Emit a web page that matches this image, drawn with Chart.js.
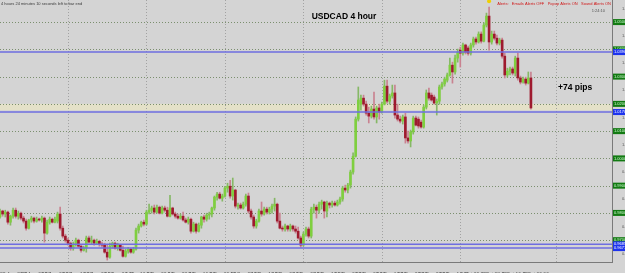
<!DOCTYPE html>
<html><head><meta charset="utf-8">
<script src="https://cdn.jsdelivr.net/npm/chart.js@4/dist/chart.umd.min.js"></script>
<style>html,body{margin:0;padding:0;background:#d4d4d4;overflow:hidden}#wrap{width:625px;height:273px}</style>
</head><body><div id="wrap"><canvas id="c" width="625" height="273"></canvas></div>
<script>
// USDCAD H4 candles, bar 0 = 22 Aug 2011 16:00
const open=[.9785,.9807,.9796,.9803,.9766,.9788,.9810,.9788,.9799,.9781,
.9770,.9744,.9774,.9781,.9770,.9777,.9774,.9781,.9726,.9766,
.9777,.9766,.9770,.9796,.9744,.9715,.9700,.9689,.9671,.9685,
.9700,.9678,.9663,.9671,.9708,.9693,.9700,.9689,.9696,.9685,
.9682,.9656,.9638,.9678,.9689,.9671,.9682,.9663,.9641,.9660,
.9667,.9656,.9667,.9737,.9752,.9766,.9759,.9803,.9810,.9818,
.9803,.9821,.9799,.9818,.9810,.9788,.9818,.9796,.9788,.9781,
.9788,.9774,.9766,.9777,.9733,.9759,.9733,.9755,.9785,.9777,
.9792,.9796,.9818,.9858,.9869,.9854,.9862,.9891,.9898,.9862,
.9884,.9825,.9829,.9818,.9832,.9862,.9807,.9785,.9752,.9770,
.9807,.9796,.9814,.9803,.9814,.9825,.9832,.9770,.9744,.9741,
.9752,.9741,.9752,.9741,.9733,.9708,.9682,.9722,.9741,.9715,
.9814,.9821,.9810,.9832,.9840,.9807,.9836,.9829,.9836,.9829,
.9840,.9851,.9891,.9884,.9902,.9950,1.0008,1.0144,1.0199,1.0221,
1.0199,1.0166,1.0155,1.0181,1.0152,1.0185,1.0170,1.0199,1.0265,1.0210,
1.0229,1.0240,1.0159,1.0144,1.0137,1.0152,1.0075,1.0064,1.0097,1.0148,
1.0144,1.0133,1.0115,1.0188,1.0240,1.0232,1.0225,1.0203,1.0210,1.0262,
1.0273,1.0287,1.0306,1.0342,1.0317,1.0368,1.0397,1.0386,1.0416,1.0405,
1.0386,1.0416,1.0438,1.0427,1.0456,1.0430,1.0489,1.0522,1.0427,1.0456,
1.0441,1.0423,1.0434,1.0375,1.0306,1.0320,1.0328,1.0313,1.0368,1.0295,
1.0280,1.0291,1.0276,1.0295];
const high=[.9814,.9810,.9810,.9807,.9792,.9818,.9818,.9807,.9803,.9788,
.9777,.9777,.9788,.9785,.9785,.9781,.9788,.9785,.9774,.9785,
.9781,.9785,.9803,.9821,.9752,.9722,.9708,.9693,.9693,.9708,
.9704,.9682,.9678,.9715,.9715,.9715,.9704,.9704,.9700,.9693,
.9689,.9685,.9689,.9693,.9693,.9689,.9685,.9678,.9667,.9674,
.9671,.9674,.9744,.9759,.9770,.9774,.9810,.9832,.9825,.9829,
.9829,.9825,.9825,.9825,.9821,.9865,.9821,.9803,.9796,.9796,
.9803,.9781,.9785,.9781,.9766,.9763,.9763,.9788,.9792,.9799,
.9803,.9821,.9862,.9876,.9876,.9869,.9898,.9909,.9920,.9928,
.9887,.9836,.9836,.9840,.9869,.9873,.9814,.9792,.9777,.9814,
.9840,.9821,.9821,.9821,.9832,.9854,.9836,.9799,.9752,.9759,
.9755,.9759,.9755,.9752,.9748,.9715,.9730,.9748,.9748,.9821,
.9832,.9829,.9840,.9847,.9843,.9843,.9840,.9843,.9843,.9847,
.9858,.9898,.9902,.9909,.9957,1.0020,1.0152,1.0262,1.0232,1.0232,
1.0210,1.0188,1.0192,1.0243,1.0192,1.0199,1.0207,1.0287,1.0287,1.0236,
1.0269,1.0269,1.0199,1.0155,1.0159,1.0166,1.0100,1.0104,1.0155,1.0155,
1.0152,1.0141,1.0196,1.0251,1.0258,1.0240,1.0232,1.0218,1.0269,1.0280,
1.0298,1.0313,1.0368,1.0353,1.0379,1.0401,1.0408,1.0423,1.0419,1.0412,
1.0423,1.0445,1.0445,1.0464,1.0464,1.0497,1.0533,1.0555,1.0467,1.0467,
1.0452,1.0441,1.0441,1.0386,1.0331,1.0335,1.0335,1.0375,1.0386,1.0302,
1.0298,1.0298,1.0317,1.0317];
const low=[.9781,.9788,.9785,.9759,.9755,.9781,.9781,.9777,.9774,.9763,
.9737,.9741,.9766,.9763,.9766,.9770,.9766,.9693,.9722,.9759,
.9763,.9763,.9763,.9737,.9708,.9693,.9682,.9663,.9663,.9678,
.9674,.9656,.9660,.9656,.9689,.9685,.9682,.9685,.9678,.9674,
.9652,.9627,.9634,.9671,.9667,.9663,.9660,.9638,.9638,.9652,
.9652,.9652,.9663,.9726,.9748,.9752,.9755,.9796,.9799,.9796,
.9799,.9796,.9796,.9803,.9785,.9785,.9792,.9781,.9777,.9777,
.9770,.9763,.9759,.9726,.9730,.9726,.9730,.9744,.9766,.9770,
.9777,.9785,.9810,.9847,.9851,.9843,.9858,.9876,.9854,.9847,
.9818,.9814,.9814,.9814,.9825,.9799,.9777,.9744,.9744,.9766,
.9788,.9792,.9796,.9796,.9799,.9807,.9763,.9741,.9733,.9733,
.9733,.9733,.9733,.9726,.9704,.9674,.9678,.9715,.9708,.9708,
.9799,.9781,.9799,.9814,.9781,.9785,.9818,.9821,.9825,.9825,
.9832,.9843,.9876,.9873,.9891,.9942,1.0005,1.0137,1.0177,1.0192,
1.0159,1.0130,1.0148,1.0144,1.0130,1.0144,1.0166,1.0196,1.0203,1.0199,
1.0221,1.0148,1.0137,1.0130,1.0126,1.0056,1.0056,1.0042,1.0089,1.0119,
1.0111,1.0111,1.0111,1.0181,1.0214,1.0210,1.0199,1.0159,1.0199,1.0254,
1.0265,1.0280,1.0302,1.0276,1.0309,1.0353,1.0335,1.0379,1.0383,1.0379,
1.0379,1.0408,1.0419,1.0423,1.0423,1.0427,1.0482,1.0397,1.0419,1.0434,
1.0416,1.0416,1.0368,1.0295,1.0298,1.0306,1.0306,1.0302,1.0287,1.0273,
1.0276,1.0269,1.0273,1.0181];
const close=[.9807,.9796,.9803,.9766,.9788,.9810,.9788,.9799,.9781,.9770,
.9744,.9774,.9781,.9770,.9777,.9774,.9781,.9726,.9766,.9777,
.9766,.9777,.9796,.9744,.9715,.9700,.9689,.9671,.9685,.9700,
.9678,.9663,.9671,.9708,.9693,.9700,.9689,.9696,.9685,.9682,
.9656,.9638,.9678,.9689,.9671,.9682,.9663,.9641,.9660,.9667,
.9656,.9667,.9737,.9752,.9766,.9759,.9803,.9810,.9818,.9803,
.9821,.9799,.9818,.9810,.9788,.9818,.9796,.9788,.9781,.9788,
.9774,.9766,.9777,.9733,.9759,.9733,.9755,.9785,.9777,.9792,
.9796,.9818,.9858,.9869,.9854,.9862,.9891,.9898,.9862,.9884,
.9825,.9829,.9818,.9832,.9862,.9807,.9785,.9752,.9770,.9807,
.9796,.9814,.9803,.9814,.9825,.9832,.9770,.9744,.9741,.9752,
.9741,.9752,.9741,.9733,.9708,.9682,.9722,.9741,.9715,.9814,
.9821,.9810,.9832,.9840,.9807,.9836,.9829,.9836,.9829,.9840,
.9851,.9891,.9884,.9902,.9950,1.0008,1.0144,1.0214,1.0221,1.0199,
1.0166,1.0155,1.0181,1.0152,1.0185,1.0170,1.0199,1.0265,1.0210,1.0229,
1.0240,1.0159,1.0144,1.0137,1.0152,1.0075,1.0064,1.0097,1.0148,1.0122,
1.0119,1.0115,1.0188,1.0240,1.0221,1.0214,1.0203,1.0210,1.0262,1.0273,
1.0291,1.0306,1.0342,1.0317,1.0368,1.0390,1.0386,1.0416,1.0390,1.0386,
1.0416,1.0438,1.0427,1.0456,1.0430,1.0489,1.0522,1.0427,1.0456,1.0441,
1.0423,1.0434,1.0375,1.0306,1.0320,1.0328,1.0313,1.0368,1.0295,1.0280,
1.0291,1.0276,1.0295,1.0185];

const xTickBars=[0,8,16,24,32,40,48,56,64,72,80,88,96,104,112,120,128,136,144,152,160,168,176,184,192,200];
const xTickLabels=["22 Aug 2011","24 Aug 00:00","25 Aug 08:00","26 Aug 16:00","30 Aug 00:00","31 Aug 08:00","1 Sep 16:00","5 Sep 00:00","6 Sep 08:00","7 Sep 16:00","9 Sep 00:00","12 Sep 08:00","13 Sep 16:00","15 Sep 00:00","16 Sep 08:00","19 Sep 16:00","21 Sep 00:00","22 Sep 08:00","23 Sep 16:00","27 Sep 00:00","28 Sep 08:00","29 Sep 16:00","3 Oct 00:00","4 Oct 08:00","5 Oct 16:00","7 Oct 00:00"];
const yTickValues=[0.9650,0.9700,0.9750,0.9800,0.9850,0.9900,0.9950,1.0000,1.0050,1.0100,1.0150,1.0200,1.0250,1.0300,1.0350,1.0400,1.0450,1.0500,1.0550];
const weekStarts=[26,56,86,116,146,176,212.5];
const levelLines=[1.0500,1.0400,1.0300,1.0200,1.0100,1.0000,0.9900,0.9800,0.9700];
const blueLines=[1.0390,1.0170,0.9685,0.9671];
const zoneBand=[1.0177,1.0200];
const yellowMark=[{x:187,y:1.0576}];

const bars=open.map((v,i)=>i);
const up=i=>close[i]>=open[i];
const bodyColors=bars.map(i=>up(i)?'#7fcf3f':'#9e1a2e');
const wickColors=bars.map(i=>up(i)?'#86b866':'#c98290');
const FONT='"Liberation Sans", Arial, sans-serif';

const decor={id:'decor',
 beforeDraw(c){const g=c.ctx;g.save();g.fillStyle='#d4d4d4';g.fillRect(0,0,c.width,c.height);g.restore();},
 beforeDatasetsDraw(c){
  const g=c.ctx,a=c.chartArea,x=c.scales.x,y=c.scales.y;
  g.save();g.beginPath();g.rect(a.left,a.top,a.right-a.left,a.bottom-a.top);g.clip();
  const b1=y.getPixelForValue(zoneBand[1]),b2=y.getPixelForValue(zoneBand[0]);
  g.fillStyle='#e4e1c8';g.fillRect(a.left,b1,a.right-a.left,b2-b1);
  g.lineWidth=1;g.setLineDash([1,2]);
  g.strokeStyle='#a2a2a2';
  weekStarts.forEach(v=>{const px=Math.round(x.getPixelForValue(v))+0.5;g.beginPath();g.moveTo(px,a.top);g.lineTo(px,a.bottom);g.stroke();});
  g.strokeStyle='#7b8f6e';
  levelLines.forEach(v=>{const py=Math.round(y.getPixelForValue(v))+0.5;g.beginPath();g.moveTo(a.left,py);g.lineTo(a.right,py);g.stroke();});
  g.restore();
 },
 afterDatasetsDraw(c){
  const g=c.ctx,a=c.chartArea,y=c.scales.y;
  g.save();g.strokeStyle='#6e6ee0';g.lineWidth=1.5;
  blueLines.forEach(v=>{const py=y.getPixelForValue(v);g.beginPath();g.moveTo(a.left,py);g.lineTo(a.right,py);g.stroke();});
  g.restore();
 },
 afterDraw(c){
  const g=c.ctx,a=c.chartArea,y=c.scales.y;
  g.save();
  g.textBaseline='middle';
  const box=(v,bg,fg)=>{const py=y.getPixelForValue(v);g.fillStyle=bg;g.fillRect(a.right+1,py-3,c.width-a.right,6);g.fillStyle=fg;g.font='4px '+FONT;g.textAlign='left';g.fillText(v.toFixed(4),a.right+2,py);};
  levelLines.forEach(v=>box(v,'#127a12','#d8ffd8'));
  blueLines.forEach(v=>box(v,'#1d33ee','#ffffff'));
  g.fillStyle='#000';g.font='bold 8.5px '+FONT;g.textAlign='center';
  g.fillText('USDCAD 4 hour',344,17);
  g.textAlign='left';g.fillText('+74 pips',558,88);
  g.font='4px '+FONT;g.fillStyle='#3a3a3a';
  g.fillText('4 hours 24 minutes 10 seconds left to bar end',1,4);
  g.fillStyle='#d01818';g.textAlign='right';
  g.fillText('Alerts:   Emails Alerts OFF   Popup Alerts ON   Sound Alerts ON',611,4);
  g.fillStyle='#555';g.fillText('1:24:10',605,11);
  g.restore();
 }
};

new Chart(document.getElementById('c'),{
 type:'bar',
 data:{datasets:[
  {label:'wick',data:bars.map(i=>({x:i,y:[low[i],high[i]]})),backgroundColor:wickColors,barThickness:1,grouped:false,order:2},
  {label:'body',data:bars.map(i=>({x:i,y:[open[i],close[i]]})),backgroundColor:bodyColors,barThickness:2,minBarLength:1,grouped:false,order:1},
  {type:'scatter',label:'mark',data:yellowMark,pointRadius:2,hoverRadius:2,backgroundColor:'#f0d000',borderWidth:0,order:0}
 ]},
 options:{
  responsive:false,devicePixelRatio:1,animation:false,
  layout:{padding:0,autoPadding:false},
  plugins:{legend:{display:false},tooltip:{enabled:false}},
  scales:{
   x:{type:'linear',min:0,max:234,offset:false,grid:{display:false},border:{display:true,color:'#7a7a7a'},
      afterBuildTicks:s=>{s.ticks=xTickBars.map(v=>({value:v}));},
      ticks:{autoSkip:false,maxRotation:0,align:'start',padding:2,color:'#555',font:{size:5,family:FONT},
        callback:v=>xTickLabels[xTickBars.indexOf(v)]},
      afterFit:s=>{s.height=11;s.paddingLeft=0;s.paddingRight=0;}},
   y:{position:'right',min:0.9620,max:1.0581,grid:{display:false},border:{display:true,color:'#7a7a7a'},
      afterBuildTicks:s=>{s.ticks=yTickValues.map(v=>({value:v}));},
      ticks:{padding:2,color:'#555',font:{size:4,family:FONT},callback:v=>Number(v).toFixed(4)},
      afterFit:s=>{s.width=13;s.paddingTop=0;s.paddingBottom=0;}}
  }
 },
 plugins:[decor]
});
</script></body></html>
